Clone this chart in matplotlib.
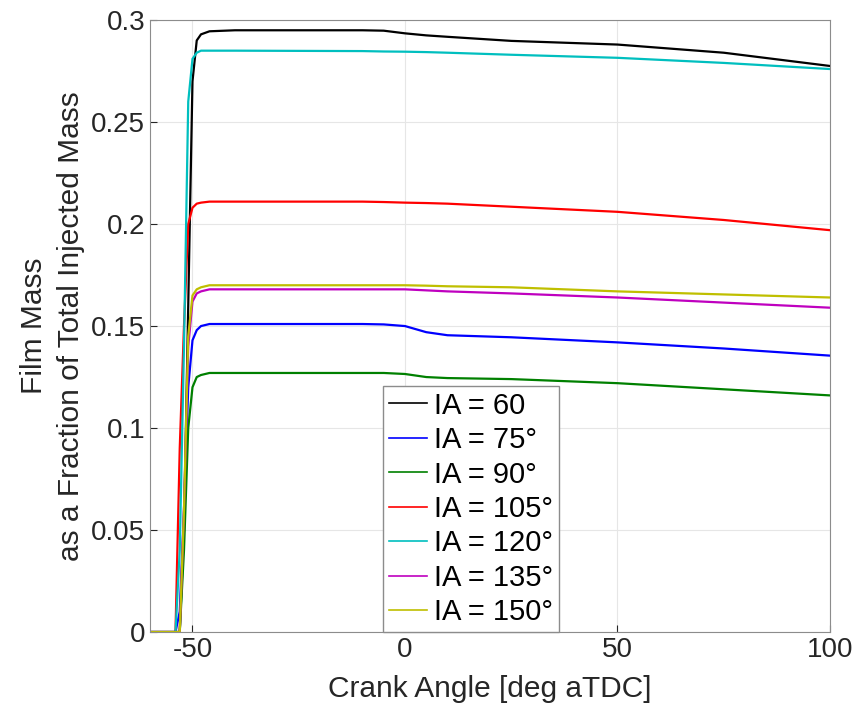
import matplotlib.pyplot as plt
import numpy as np

plt.rcParams['font.family'] = ['Liberation Sans', 'DejaVu Sans']
plt.rcParams['axes.unicode_minus'] = False

# crank angle grid the curves were read at
crank_angle = [-60, -54, -53, -52, -51, -50, -49, -48, -46, -40, -10, -5, 0, 5, 10, 25, 50, 75, 100]

labels = ['IA = 60', 'IA = 75°', 'IA = 90°', 'IA = 105°', 'IA = 120°', 'IA = 135°', 'IA = 150°']
colors = ['k', (0, 0, 1), (0, 0.5, 0), (1, 0, 0), (0, 0.75, 0.75), (0.75, 0, 0.75), (0.75, 0.75, 0)]

film_ia60 = [0, 0, 0, 0.05, 0.16, 0.27, 0.290, 0.293, 0.2945, 0.295, 0.295, 0.2948, 0.2935, 0.2925, 0.2918, 0.2898, 0.288, 0.284, 0.2775]
film_ia75 = [0, 0, 0.01, 0.06, 0.12, 0.143, 0.148, 0.150, 0.151, 0.151, 0.151, 0.1508, 0.150, 0.147, 0.1455, 0.1445, 0.142, 0.139, 0.1355]
film_ia90 = [0, 0, 0, 0.04, 0.10, 0.120, 0.125, 0.126, 0.127, 0.127, 0.127, 0.127, 0.1265, 0.125, 0.1245, 0.124, 0.122, 0.119, 0.116]
film_ia105 = [0, 0, 0.09, 0.15, 0.20, 0.208, 0.210, 0.2105, 0.211, 0.211, 0.211, 0.2108, 0.2105, 0.2103, 0.210, 0.2085, 0.206, 0.202, 0.197]
film_ia120 = [0, 0, 0.04, 0.14, 0.26, 0.281, 0.284, 0.285, 0.285, 0.285, 0.2848, 0.2846, 0.2845, 0.2843, 0.284, 0.283, 0.2815, 0.279, 0.276]
film_ia135 = [0, 0, 0, 0.06, 0.14, 0.162, 0.166, 0.167, 0.168, 0.168, 0.168, 0.168, 0.168, 0.1675, 0.167, 0.166, 0.164, 0.1615, 0.159]
film_ia150 = [0, 0, 0, 0.06, 0.145, 0.165, 0.168, 0.169, 0.170, 0.170, 0.170, 0.170, 0.170, 0.1698, 0.1695, 0.169, 0.167, 0.1655, 0.164]

series = [film_ia60, film_ia75, film_ia90, film_ia105, film_ia120, film_ia135, film_ia150]

fig = plt.figure(figsize=(8.6, 7.17), dpi=100)
ax = fig.add_axes([0.1744, 0.1185, 0.7907, 0.8535])

for y, c, lab in zip(series, colors, labels):
    ax.plot(crank_angle, y, color=c, lw=1.6, label=lab)

ax.set_xlim(-60, 100)
ax.set_ylim(0, 0.3)
ax.set_xticks([-50, 0, 50, 100])
ax.set_yticks(np.arange(0, 0.31, 0.05))
ax.set_yticklabels(['0', '0.05', '0.1', '0.15', '0.2', '0.25', '0.3'])
ax.grid(True, color='#e6e6e6', lw=0.8)
ax.set_axisbelow(True)
ax.tick_params(direction='in', labelsize=20, colors='#262626', length=5)
for s in ax.spines.values():
    s.set_color('#8c8c8c')

ax.set_xlabel('Crank Angle [deg aTDC]', fontsize=21.5, color='#262626', labelpad=9)
ax.set_ylabel('Film Mass\nas a Fraction of Total Injected Mass', fontsize=21.5,
              color='#262626', linespacing=1.45)

leg = ax.legend(loc='lower left', bbox_to_anchor=(0.343, 0.0), borderaxespad=0,
                fontsize=21, handlelength=1.3, handletextpad=0.25, labelspacing=0.22,
                fancybox=False, framealpha=1, borderpad=0.2)
leg.get_frame().set_edgecolor('#8c8c8c')
for line in leg.get_lines():
    line.set_linewidth(1.2)

fig.savefig('out.png', dpi=100)
